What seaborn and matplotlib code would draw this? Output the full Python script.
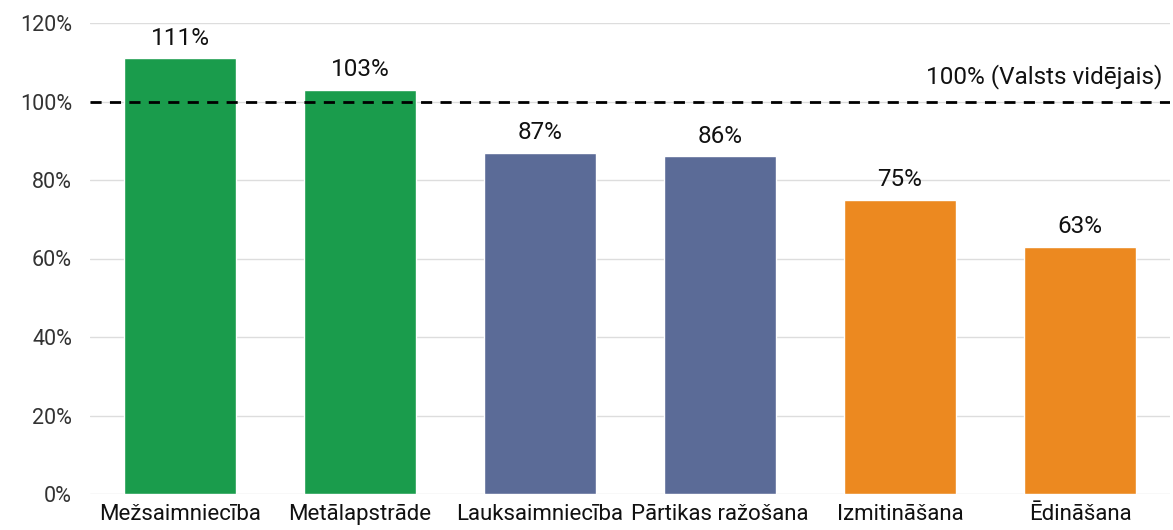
import numpy as np
import pandas as pd
import seaborn as sns
import matplotlib.pyplot as plt

categories = ["Mežsaimniecība", "Metālapstrāde", "Lauksaimniecība",
              "Pārtikas ražošana", "Izmitināšana", "Ēdināšana"]
values = [111, 103, 87, 86, 75, 63]
colors = ["#1a9c4c", "#1a9c4c", "#5b6b97", "#5b6b97", "#ec8920", "#ec8920"]
yticks = [0, 20, 40, 60, 80, 100, 120]
avg = 100
avg_label = "100% (Valsts vidējais)"

df = pd.DataFrame({"cat": categories, "val": values})

sns.set_style("white")
plt.rcParams['font.family'] = ['Roboto', 'DejaVu Sans']

fig = plt.figure(figsize=(11.73, 5.3), dpi=100)
ax = fig.add_axes([90 / 1173, 1 - 494 / 530, 1080 / 1173, 471 / 530])

sns.barplot(data=df, x="cat", y="val", hue="cat", palette=colors,
            legend=False, width=0.62, saturation=1, ax=ax)

ax.set_ylim(0, 120)
ax.set_xlim(-0.5, 5.5)
ax.set_yticks(yticks)
ax.set_yticklabels([f"{t}%" for t in yticks], fontsize=15.5, color="#333333")
ax.tick_params(axis="x", labelsize=16, labelcolor="#111111", length=0, pad=7)
ax.tick_params(axis="y", length=0, pad=13)
ax.set_xlabel("")
ax.set_ylabel("")
ax.grid(axis="y", color="#dddddd", linewidth=1)
ax.set_axisbelow(True)
for s in ax.spines.values():
    s.set_visible(False)

for i, v in enumerate(values):
    ax.text(i, v + 2.2, f"{v}%", ha="center", va="bottom", fontsize=17.5, color="#111111")

ax.axhline(avg, color="black", linestyle=(0, (4, 3)), linewidth=2, zorder=3)
ax.text(5.46, avg + 3.3, avg_label, ha="right", va="bottom", fontsize=17.5, color="#111111")

fig.savefig("out.png", dpi=100)
